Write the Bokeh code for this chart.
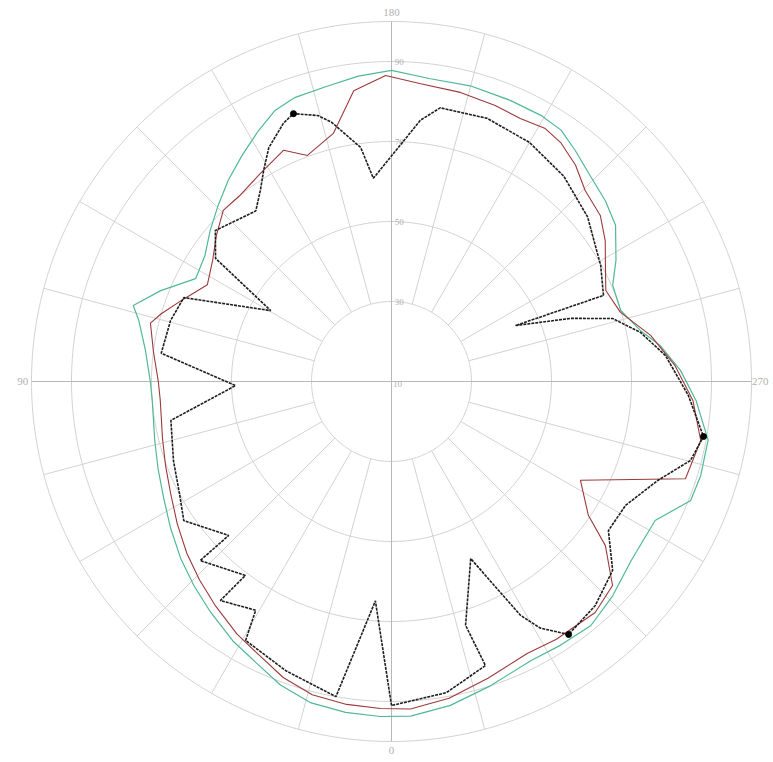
import numpy as np
from bokeh.plotting import figure
from bokeh.models import Range1d
from bokeh.embed import file_html
from bokeh.resources import INLINE
from bokeh.core.properties import value

# ---- data (angle in degrees: 0 at bottom, 90 left, 180 top, 270 right) ----
green_angle = [1.9, 7.9, 14.2, 20.1, 25.8, 31.5, 38.1, 44.1, 50, 56.4,
               62.8, 69.5, 76, 85.5, 90, 97.2, 103.6, 106.4, 111.5, 117.7,
               124.1, 129.8, 135.5, 141, 146.6, 152.1, 156.8, 161.3, 167.4, 173.8,
               180, 187.3, 194.9, 202.9, 209.3, 214, 218.5, 224, 229.8, 235.1,
               241.6, 246.5, 252.8, 258.4, 262.4, 267.8, 273.6, 280.5, 286.9, 291.7,
               297.8, 306.8, 314.1, 320.8, 327.4, 333.5, 342, 349.7, 356.7]
green_val = [93.8, 93.5, 92.8, 90.8, 88, 86, 83.3, 81, 78.8, 76.3,
             74, 72.3, 71, 70, 70.3, 72, 75, 77.3, 72, 65.3,
             66.3, 69, 71.8, 74.8, 77.8, 81, 83.8, 85, 85.5, 86.8,
             87.8, 86.3, 86.5, 86.3, 86.3, 85.8, 83.8, 81.5, 80, 78.3,
             73.8, 70.3, 70, 73.5, 77.8, 82.3, 86.3, 90.5, 90.8, 90.5,
             84.5, 84.8, 87, 88.8, 88.3, 88, 90, 92.3, 93.8]

red_angle = [1.9, 7.9, 14.2, 20.1, 25.8, 31.5, 38.1, 44.1, 50, 56.4,
             62.8, 69.5, 76, 85.5, 90, 97.2, 103.6, 106.4, 111.5, 117.7,
             124.1, 129.8, 135.5, 141, 147.8, 155, 159.6, 166.8, 172.6, 178.9,
             185.6, 193.4, 200.6, 206.1, 211.3, 215.3, 220.4, 225.4, 231.5, 236.6,
             240.9, 247, 253.2, 259.9, 266.8, 273.6, 280.8, 288.3, 297.6, 304.2,
             307.5, 312.7, 318.6, 327.4, 333.5, 342, 349.7, 356.7]
red_val = [91.8, 91.5, 90.8, 88.8, 86, 84, 81.3, 79, 76.8, 74.3,
           72, 70.3, 69, 68, 68.3, 70, 72, 70, 66, 62,
           64, 67, 70, 70, 71.5, 73.8, 70.3, 73.7, 83.3, 86.5,
           84.8, 84.3, 83.7, 83.2, 84, 83.2, 81, 78, 76.7, 74,
           71.2, 68.2, 69.8, 75.8, 81, 85.5, 88.7, 87.4, 63.3, 69.5,
           77.4, 85.2, 87, 86.5, 86, 88, 90.5, 92]

black_angle = [0, 4.2, 10, 20, 29.4, 30.7, 38, 37, 46.9, 46.6,
               56.2, 62, 70, 80, 88.5, 97, 105.4, 112, 120.4, 125,
               130.6, 141.5, 145.6, 148.8, 152.3, 157.3, 159.9, 164.5, 167, 172.5,
               174.9, 186.3, 190.1, 200, 210, 220, 230, 241, 247.9, 245.7,
               250.6, 254.1, 258.9, 264.6, 272.7, 280, 284.8, 290.4, 297.9, 304.5,
               310.5, 317.7, 325, 328.9, 331.1, 335.9, 343.1, 341.7, 350]
black_val = [91, 65, 90, 87, 84.3, 76.5, 79.5, 70.7, 75.5, 66,
             72.5, 70, 68, 66, 49, 68, 67.3, 66, 45, 63.7,
             68, 64.5, 68, 71.7, 76, 80, 81.3, 79, 76.5, 69,
             61, 75.7, 79.5, 80, 79, 77, 74, 69.8, 67.2, 44,
             57.5, 67.5, 73.5, 78.8, 84.3, 89.2, 87.3, 81, 76.2, 75.8,
             82.7, 85.7, 87.2, 82, 76.8, 58.5, 73.7, 84.8, 89]

marker_angle = [159.9, 280, 325]
marker_val = [81.3, 89.2, 87.2]

ring_values = [30, 50, 70, 90, 100]
ring_labels = ["30", "50", "70", "90"]
center_label = "10"
angle_labels = ["0", "90", "180", "270"]
angle_label_pos = [0, 90, 180, 270]

R0 = 10  # value at the centre


def to_xy(angle, val):
    a = np.radians(np.asarray(angle, dtype=float))
    r = np.asarray(val, dtype=float) - R0
    return -r * np.sin(a), -r * np.cos(a)


W, H = 773, 762
cx, cy = 391, 381
S = 4.0  # px per unit
p = figure(width=W, height=H, output_backend="svg", toolbar_location=None,
           x_range=Range1d(-cx / S, (W - cx) / S),
           y_range=Range1d(-(H - cy) / S, cy / S),
           min_border=0)
p.axis.visible = False
p.grid.visible = False
p.outline_line_color = None
p.background_fill_color = "white"

grid_col = "#d2d2d2"
rmax = ring_values[-1] - R0
rmin = ring_values[0] - R0
# rings
t = np.linspace(0, 2 * np.pi, 361)
xs, ys = [], []
for rv in ring_values:
    rr = rv - R0
    xs.append(list(rr * np.cos(t)))
    ys.append(list(rr * np.sin(t)))
p.multi_line(xs, ys, line_color=grid_col, line_width=1)
# spokes every 15 degrees
sx, sy = [], []
for ang in range(0, 360, 15):
    if ang % 90 == 0:
        continue
    a = np.radians(ang)
    sx.append([-rmin * np.sin(a), -rmax * np.sin(a)])
    sy.append([-rmin * np.cos(a), -rmax * np.cos(a)])
p.multi_line(sx, sy, line_color=grid_col, line_width=1)
# main axes
p.multi_line([[-rmax, rmax], [0, 0]], [[0, 0], [-rmax, rmax]],
             line_color="#b8b8b8", line_width=1)

lab_font = value("Liberation Serif")
lab_col = "#b0b0b0"
# ring labels
p.text(x=[0.8] * len(ring_labels), y=[v - R0 for v in ring_values[:4]],
       text=ring_labels, text_font=lab_font, text_font_size="9px",
       text_color=lab_col, text_align="left", text_baseline="middle")
p.text(x=[1.5], y=[-0.5], text=[center_label], text_font=lab_font,
       text_font_size="9px", text_color=lab_col, text_align="center",
       text_baseline="middle")
# angle labels
ax, ay = to_xy(angle_label_pos, [ring_values[-1] + 2.2] * 4)
p.text(x=list(ax), y=list(ay), text=angle_labels, text_font=lab_font,
       text_font_size="11px", text_color=lab_col, text_align="center",
       text_baseline="middle")


def closed(a, v):
    x, y = to_xy(a, v)
    return list(x) + [x[0]], list(y) + [y[0]]


gx, gy = closed(green_angle, green_val)
p.line(gx, gy, line_color="#4fb896", line_width=1.2)
rx, ry = closed(red_angle, red_val)
p.line(rx, ry, line_color="#9c3a3a", line_width=1.1)
bx, by = closed(black_angle, black_val)
p.line(bx, by, line_color="#1e1e1e", line_width=1.6, line_dash="3 1")
mx, my = to_xy(marker_angle, marker_val)
p.scatter(list(mx), list(my), size=6, color="black")

open("out.html", "w").write(file_html(p, INLINE))
